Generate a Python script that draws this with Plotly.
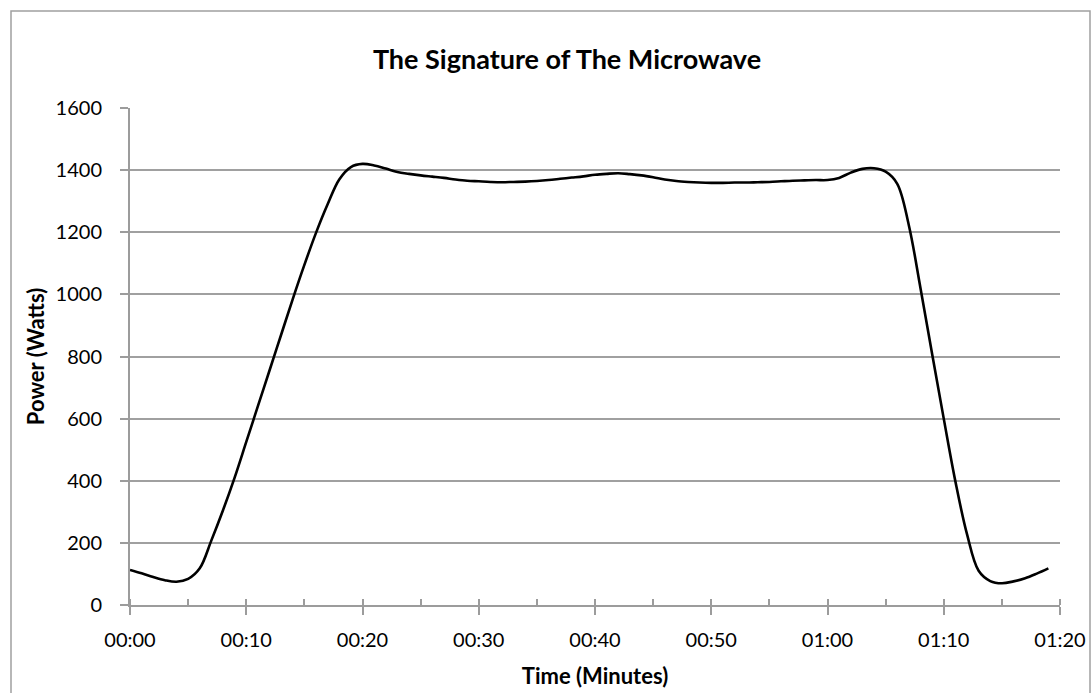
import plotly.graph_objects as go

# Power readings, one per second, over a single microwave run
seconds = list(range(0, 80))
watts = [
    113, 102, 90, 80, 75, 84, 118, 208, 305, 410,
    525, 640, 755, 870, 985, 1095, 1198, 1290, 1370, 1410,
    1420, 1415, 1405, 1394, 1388, 1383, 1379, 1375, 1370, 1366,
    1364, 1362, 1361, 1362, 1363, 1365, 1368, 1372, 1376, 1380,
    1385, 1388, 1390, 1387, 1383, 1377, 1370, 1365, 1362, 1360,
    1359, 1359, 1360, 1360, 1361, 1362, 1364, 1366, 1367, 1368,
    1368, 1375, 1392, 1404, 1406, 1395, 1356, 1222, 1020, 808,
    600, 398, 228, 110, 77, 70, 76, 86, 101, 118,
]

tick_seconds = [0, 10, 20, 30, 40, 50, 60, 70, 80]
tick_labels = ["00:00", "00:10", "00:20", "00:30", "00:40", "00:50", "01:00", "01:10", "01:20"]
power_ticks = [0, 200, 400, 600, 800, 1000, 1200, 1400, 1600]

FONT = "Lato"
GRID = "#a0a0a0"
AXIS = "#9c9c9c"

fig = go.Figure()
fig.add_trace(go.Scatter(
    x=seconds, y=watts, mode="lines",
    line=dict(color="black", width=2.6, shape="spline", smoothing=1.0),
    hoverinfo="skip", showlegend=False,
))

fig.update_layout(
    width=1091, height=693,
    margin=dict(l=130, r=31, t=108, b=88, autoexpand=False),
    paper_bgcolor="white", plot_bgcolor="white",
    font=dict(family=FONT, size=20, color="black"),
    title=dict(text="<b>The Signature of The Microwave</b>",
               x=567 / 1091, xanchor="center", xref="container",
               y=1 - 60 / 693, yanchor="middle", yref="container",
               font=dict(family=FONT, size=27, color="black")),
    xaxis=dict(
        range=[0, 80], tickmode="array", tickvals=tick_seconds, ticktext=tick_labels,
        automargin=False, showgrid=False, zeroline=False,
        showline=True, linecolor=AXIS, linewidth=2,
        ticks="outside", ticklen=8, tickwidth=2, tickcolor=AXIS,
        ticklabelstandoff=8,
        minor=dict(tickmode="linear", tick0=0, dtick=5, ticks="inside",
                   ticklen=6, tickwidth=2, tickcolor=AXIS),
        title=dict(text="<b>Time (Minutes)</b>", standoff=19,
                   font=dict(family=FONT, size=22)),
    ),
    xaxis2=dict(
        overlaying="x", matches="x", range=[0, 80], automargin=False,
        tickmode="array", tickvals=tick_seconds, showticklabels=False,
        showgrid=False, zeroline=False, showline=False,
        ticks="inside", ticklen=6, tickwidth=2, tickcolor=AXIS,
    ),
    yaxis=dict(
        range=[0, 1600], tickmode="array", tickvals=power_ticks,
        automargin=False, showgrid=True, gridcolor=GRID, gridwidth=1.6,
        zeroline=False,
        showline=True, linecolor=AXIS, linewidth=2,
        ticks="outside", ticklen=8, tickwidth=2, tickcolor=AXIS,
        ticklabelstandoff=14,
        title=dict(text="<b>Power (Watts)</b>", standoff=5,
                   font=dict(family=FONT, size=22)),
    ),
    shapes=[dict(
        type="rect", xref="paper", yref="paper",
        x0=-119 / 930, x1=960 / 930, y0=-0.2, y1=594 / 497,
        line=dict(color="#a0a0a0", width=1.5), fillcolor="rgba(0,0,0,0)", layer="below",
    )],
)

# invisible trace that activates the overlaid tick-only axis
fig.add_trace(go.Scatter(x=[0], y=[0], xaxis="x2", mode="markers",
                         marker=dict(opacity=0), hoverinfo="skip", showlegend=False))

fig.write_html("out.html")
